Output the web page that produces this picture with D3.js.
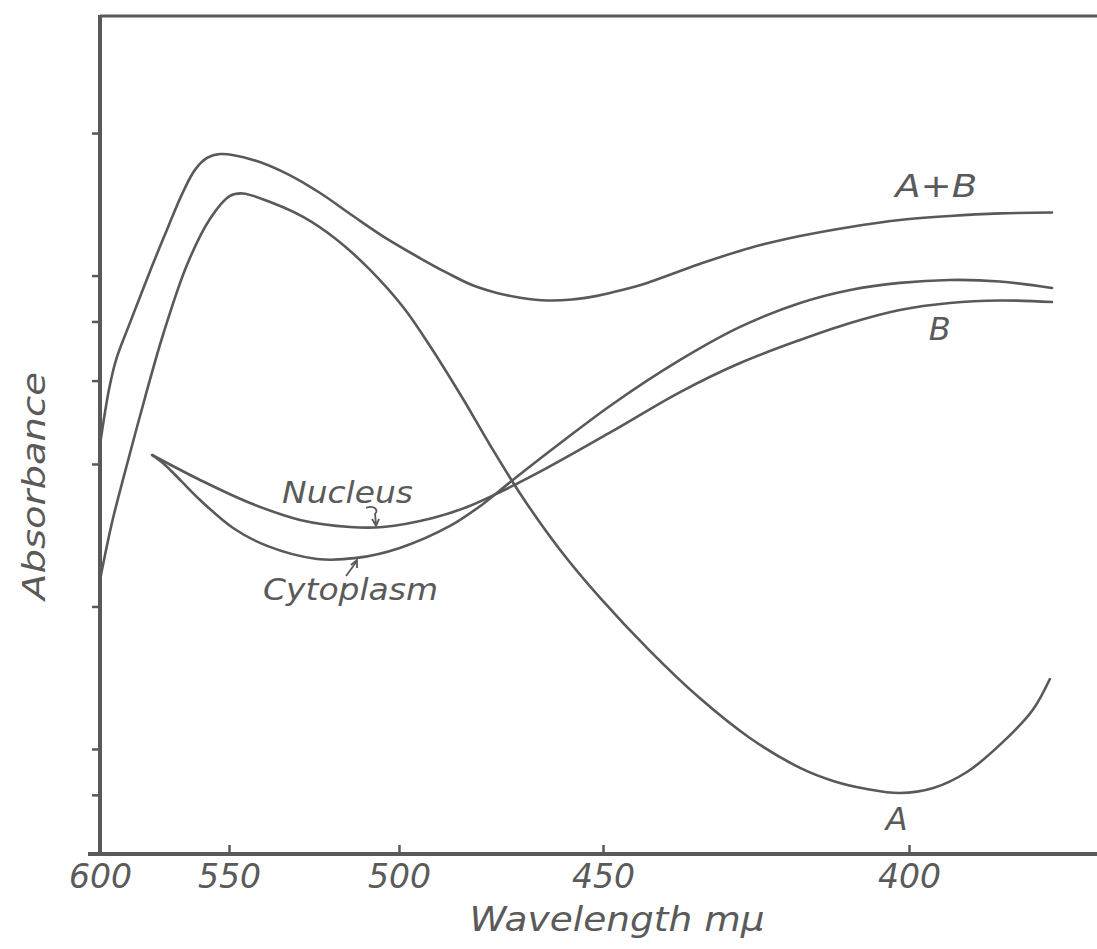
<!DOCTYPE html>
<html>
<head>
<meta charset="utf-8">
<script src="https://cdn.jsdelivr.net/npm/d3@7"></script>
<style>
  body { margin: 0; background: #fff; }
  text { font-family: "DejaVu Sans", sans-serif; fill: #5a5a5a; }
</style>
</head>
<body>
<div class="chart"></div>
<script>
const width = 1097, height = 949;

// wavelength (m\u03bc) ticks and the absorbance (log) tick marks, unlabelled
const wavelengthTicks = [600, 550, 500, 450, 400];
const absorbanceTicks = [0.08, 0.1, 0.2, 0.4, 0.6, 0.8, 1, 2];

// curves: [wavelength, absorbance]
const curveAB = [
    [600, 0.439], [596.5, 0.575], [593.8, 0.663], [589.5, 0.767],
    [584.5, 0.901], [579.5, 1.058], [573.6, 1.267], [567.8, 1.502], [563.2, 1.672],
    [558.5, 1.772], [553.5, 1.806], [542.9, 1.755], [532.9, 1.64], [523.2, 1.494],
    [513.5, 1.336], [503.5, 1.195], [494.9, 1.089], [488.2, 1.013], [482.1, 0.955],
    [476, 0.919], [469.9, 0.897], [463.7, 0.886], [457.6, 0.89], [451.5, 0.906],
    [446.9, 0.932], [442.8, 0.965], [434.2, 1.058], [426, 1.144], [417.8, 1.212],
    [409.6, 1.267], [401.5, 1.31], [394.3, 1.336], [387.3, 1.353], [380, 1.359]
];
const curveA = [
    [600, 0.2275], [595.3, 0.3016], [590.3, 0.3848], [582.6, 0.5512], [575.6, 0.749],
    [566.3, 1.053], [557.4, 1.317], [549.7, 1.473], [545.9, 1.491], [537.9, 1.43],
    [528.2, 1.33], [518.2, 1.189], [508.5, 1.028], [499, 0.858], [492.4, 0.71],
    [484.3, 0.5486], [477.7, 0.4387], [469.6, 0.339], [460.5, 0.2633], [450.7, 0.2085],
    [442.3, 0.161], [434.2, 0.1281], [426, 0.1055], [417.8, 0.0912], [412.4, 0.0856],
    [406.9, 0.0823], [401.5, 0.0807], [396.6, 0.0827], [391.9, 0.0894], [387.3, 0.102],
    [382.7, 0.1209], [380.3, 0.1405]
];
const curveNucleus = [
    [579.8, 0.4178], [561.2, 0.37], [543.8, 0.3308], [529.1, 0.3047], [514.4, 0.2944],
    [504.7, 0.2944], [491.7, 0.3076], [483.3, 0.3245], [475.2, 0.349], [463.7, 0.3924],
    [448.4, 0.4696], [437.4, 0.5675], [427.6, 0.6537], [417.8, 0.7311], [409.6, 0.794],
    [401.5, 0.8458], [394.3, 0.8753], [387.3, 0.886], [380, 0.8796]
];
const curveCytoplasm = [
    [579.8, 0.4178], [574.8, 0.3981], [568.2, 0.3665], [561.2, 0.3357], [548.8, 0.293],
    [538.8, 0.2685], [524.1, 0.252], [512.4, 0.2533], [499.8, 0.2659], [487.5, 0.2959],
    [479.4, 0.3293], [472.1, 0.37], [459.8, 0.4472], [448.4, 0.5355], [437.4, 0.6633],
    [427.6, 0.7789], [417.8, 0.8751], [409.6, 0.9324], [401.5, 0.965], [394.3, 0.9789],
    [387.3, 0.9717], [380, 0.9415]
];

// curve labels: text, wavelength, absorbance, anchor, drawn width
const curveLabels = [
    ["A+B", 396.2, 1.466, "middle", 82],
    ["B", 395.7, 0.731, "middle", 0],
    ["A", 402, 0.0674, "middle", 0],
    ["Nucleus", 534.4, 0.331, "start", 131],
    ["Cytoplasm", 540, 0.2064, "start", 175]
];

const svg = d3.select(".chart")
    .append("svg")
    .attr("width", width)
    .attr("height", height)
    .attr("viewBox", [0, 0, width, height]);

const frameLeft = 100, frameTop = 16, frameBottom = 854;

const x = d3.scaleLinear()
    .domain([600, 550, 500, 450, 400, 380])
    .range([100, 229, 399, 603, 909, 1052]);

const y = d3.scaleLog()
    .domain([0.06, 3.5])
    .range([frameBottom, 18]);

const ink = "#595959";

// frame
svg.append("line")
    .attr("x1", frameLeft).attr("x2", width)
    .attr("y1", frameTop).attr("y2", frameTop)
    .attr("stroke", ink).attr("stroke-width", 3);
svg.append("line")
    .attr("x1", frameLeft).attr("x2", frameLeft)
    .attr("y1", frameTop - 1).attr("y2", frameBottom + 2)
    .attr("stroke", ink).attr("stroke-width", 4);
svg.append("line")
    .attr("x1", 88).attr("x2", width)
    .attr("y1", frameBottom).attr("y2", frameBottom)
    .attr("stroke", ink).attr("stroke-width", 4);

// x axis ticks pointing up, labels below
const xAxis = svg.append("g")
    .attr("transform", `translate(0,${frameBottom})`)
    .call(d3.axisBottom(x).tickValues(wavelengthTicks).tickSizeInner(-9).tickSizeOuter(0));
xAxis.select(".domain").remove();
xAxis.selectAll(".tick line").attr("stroke", ink).attr("stroke-width", 2.5);
xAxis.selectAll(".tick text")
    .attr("y", 34).attr("dy", 0)
    .attr("font-size", 33)
    .attr("font-style", "italic")
    .attr("fill", "#5a5a5a");

// y axis ticks, no labels
const yAxis = svg.append("g")
    .attr("transform", `translate(${frameLeft},0)`)
    .call(d3.axisLeft(y).tickValues(absorbanceTicks).tickFormat("").tickSizeInner(8).tickSizeOuter(0));
yAxis.select(".domain").remove();
yAxis.selectAll(".tick line").attr("stroke", ink).attr("stroke-width", 2.5);

// curves
const line = d3.line()
    .x(d => x(d[0]))
    .y(d => y(d[1]))
    .curve(d3.curveCatmullRom.alpha(0.5));

svg.selectAll("path.curve")
    .data([curveAB, curveA, curveNucleus, curveCytoplasm])
    .join("path")
    .attr("class", "curve")
    .attr("d", line)
    .attr("fill", "none")
    .attr("stroke", ink)
    .attr("stroke-width", 2.6)
    .attr("stroke-linecap", "round")
    .attr("stroke-linejoin", "round");

// labels
svg.selectAll("text.label")
    .data(curveLabels)
    .join("text")
    .attr("class", "label")
    .attr("x", d => x(d[1]))
    .attr("y", d => y(d[2]))
    .attr("text-anchor", d => d[3])
    .attr("font-size", d => d[0].length > 3 ? 31 : 32)
    .attr("font-style", "italic")
    .each(function(d) {
        if (d[4]) d3.select(this).attr("textLength", d[4]).attr("lengthAdjust", "spacingAndGlyphs");
    })
    .text(d => d[0]);

// little pointer arrows under the labels
const nx = x(534.4), ny = y(0.331);
svg.append("path")
    .attr("d", `M${nx + 84},${ny + 5} C${nx + 92},${ny + 2} ${nx + 97},${ny + 7} ${nx + 93},${ny + 11} L${nx + 94},${ny + 22}`)
    .attr("fill", "none").attr("stroke", ink).attr("stroke-width", 1.8);
svg.append("path")
    .attr("d", `M${nx + 90},${ny + 16} L${nx + 94},${ny + 23} L${nx + 97},${ny + 16}`)
    .attr("fill", "none").attr("stroke", ink).attr("stroke-width", 1.8);

const cx = x(540), cy = y(0.2064);
svg.append("path")
    .attr("d", `M${cx + 83},${cy - 24} L${cx + 94},${cy - 39}`)
    .attr("fill", "none").attr("stroke", ink).attr("stroke-width", 1.8);
svg.append("path")
    .attr("d", `M${cx + 88},${cy - 35} L${cx + 94},${cy - 40} L${cx + 94},${cy - 32}`)
    .attr("fill", "none").attr("stroke", ink).attr("stroke-width", 1.8);

// axis titles
svg.append("text")
    .attr("x", 617).attr("y", 931)
    .attr("text-anchor", "middle")
    .attr("font-size", 33)
    .attr("font-style", "italic")
    .attr("textLength", 295).attr("lengthAdjust", "spacingAndGlyphs")
    .text("Wavelength m\u03bc");

svg.append("text")
    .attr("transform", "translate(45,486) rotate(-90)")
    .attr("text-anchor", "middle")
    .attr("font-size", 32)
    .attr("font-style", "italic")
    .attr("textLength", 228).attr("lengthAdjust", "spacingAndGlyphs")
    .text("Absorbance");
</script>
</body>
</html>
